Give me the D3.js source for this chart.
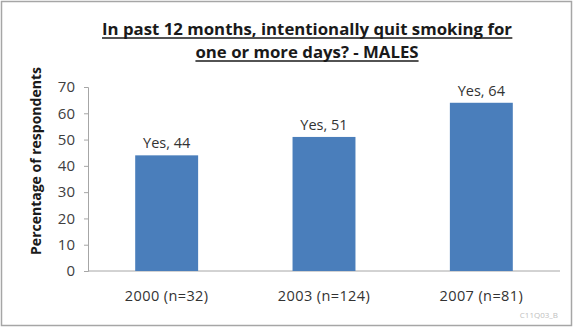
<!DOCTYPE html>
<html><head><meta charset="utf-8">
<script src="https://cdn.jsdelivr.net/npm/d3@7"></script>
<style>body{margin:0;background:#fff}svg{display:block}</style>
</head><body>
<script>
const categories = ["2000 (n=32)", "2003 (n=124)", "2007 (n=81)"];
const values = [44, 51, 64];
const seriesName = "Yes";
const yTicks = [0, 10, 20, 30, 40, 50, 60, 70];
const titleLines = ["In past 12 months, intentionally quit smoking for", "one or more days? - MALES"];
const yTitle = "Percentage of respondents";
const footnote = "C11Q03_B";

const W = 573, H = 327;
const svg = d3.select("body").append("svg").attr("width", W).attr("height", H);
const font = "'Open Sans', sans-serif";

svg.append("rect").attr("x", 1.5).attr("y", 1.5).attr("width", W - 3).attr("height", H - 3)
  .attr("fill", "#fff").attr("stroke", "#a6a6a6").attr("stroke-width", 1.5);

const m = {left: 88, right: 13, top: 87, bottom: 56};
const x = d3.scaleBand().domain(categories).range([m.left, W - m.right]).paddingInner(0.6).paddingOuter(0.3);
const y = d3.scaleLinear().domain([0, 70]).range([H - m.bottom, m.top]);

// title
const t = svg.append("g");
titleLines.forEach((s, i) => {
  const ty = 35 + i * 23;
  const tx = t.append("text").attr("x", 307).attr("y", ty).attr("text-anchor", "middle")
    .attr("font-family", font).attr("font-weight", "bold").attr("font-size", 16.8).attr("fill", "#1a1a1a").text(s);
  const bb = tx.node().getBBox();
  t.append("line").attr("x1", bb.x).attr("x2", bb.x + bb.width).attr("y1", ty + 3).attr("y2", ty + 3)
    .attr("stroke", "#1a1a1a").attr("stroke-width", 1.3);
});

// y axis
const ya = svg.append("g").attr("transform", `translate(${m.left},0)`)
  .call(d3.axisLeft(y).tickValues(yTicks).tickSize(4).tickPadding(9));
ya.select(".domain").attr("stroke", "#a6a6a6");
ya.selectAll(".tick line").attr("stroke", "#a6a6a6");
ya.selectAll(".tick text").attr("font-family", font).attr("font-size", 15).attr("fill", "#404040");

// x axis
const xa = svg.append("g").attr("transform", `translate(0,${H - m.bottom})`)
  .call(d3.axisBottom(x).tickSize(0).tickPadding(20));
xa.select(".domain").attr("stroke", "#a6a6a6").attr("d", `M${m.left},0H${W - m.right}`);
xa.selectAll(".tick text").attr("font-family", font).attr("font-size", 14.5).attr("letter-spacing", 0.4).attr("fill", "#333");

// bars
svg.append("g").selectAll("rect").data(values).join("rect")
  .attr("x", (d, i) => x(categories[i])).attr("width", x.bandwidth())
  .attr("y", d => y(d)).attr("height", d => y(0) - y(d)).attr("fill", "#4a7ebb");

svg.append("g").selectAll("text").data(values).join("text")
  .attr("x", (d, i) => x(categories[i]) + x.bandwidth() / 2).attr("y", d => y(d) - 7)
  .attr("text-anchor", "middle").attr("font-family", font).attr("font-size", 14.5).attr("fill", "#333")
  .text(d => `${seriesName}, ${d}`);

// y title
svg.append("text").attr("transform", `translate(41,161) rotate(-90)`)
  .attr("text-anchor", "middle").attr("font-family", font).attr("font-weight", "bold").attr("font-size", 14)
  .attr("fill", "#1a1a1a").text(yTitle);

svg.append("text").attr("x", 558).attr("y", 318).attr("text-anchor", "end").attr("font-family", font)
  .attr("font-size", 8).attr("fill", "#c0c0c0").text(footnote);
</script>
</body></html>
